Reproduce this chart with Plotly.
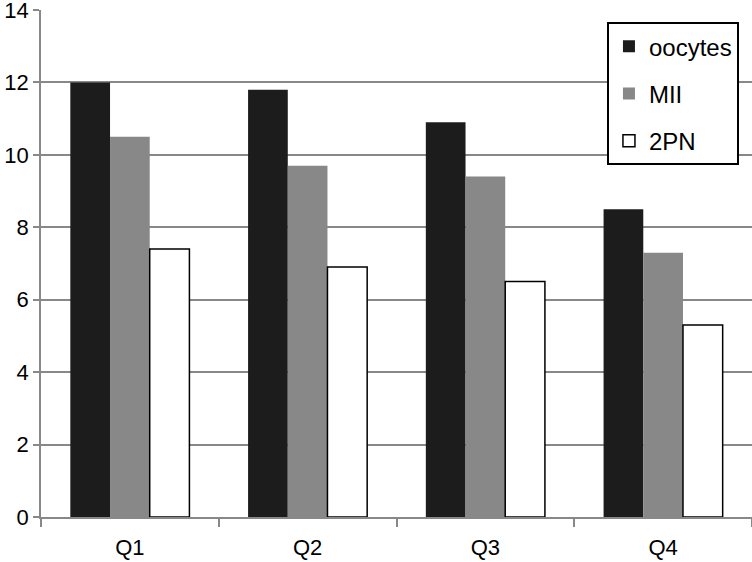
import plotly.graph_objects as go

categories = ["Q1", "Q2", "Q3", "Q4"]
oocytes = [12.0, 11.8, 10.9, 8.5]
mii = [10.5, 9.7, 9.4, 7.3]
pn2 = [7.4, 6.9, 6.5, 5.3]
y_ticks = [0, 2, 4, 6, 8, 10, 12, 14]

fig = go.Figure()
fig.add_trace(go.Bar(x=categories, y=oocytes, name="oocytes", legendgroup="a",
                     marker=dict(color="#1c1c1c", line=dict(width=0))))
fig.add_trace(go.Bar(x=categories, y=mii, name="MII", legendgroup="b",
                     marker=dict(color="#888888", line=dict(width=0))))
fig.add_trace(go.Bar(x=categories, y=pn2, name="2PN", legendgroup="c",
                     marker=dict(color="white", line=dict(color="black", width=1.5))))

tick_font = dict(family="Liberation Sans", size=22, color="black")

fig.update_layout(
    width=752, height=562,
    margin=dict(l=41, r=0, t=10, b=45, autoexpand=False),
    paper_bgcolor="white", plot_bgcolor="white",
    barmode="group", bargap=0.33, bargroupgap=0,
    font=tick_font,
    showlegend=True,
    legend=dict(
        x=0.796, y=0.976, xanchor="left", yanchor="top",
        bgcolor="white", bordercolor="black", borderwidth=2,
        font=dict(family="Liberation Sans", size=24, color="black"),
        tracegroupgap=13, itemwidth=30,
    ),
    xaxis=dict(
        automargin=False,
        showline=True, linecolor="#888888", linewidth=1.5,
        ticks="outside", tickson="boundaries", ticklen=8, tickcolor="#888888",
        tickwidth=1.5, showgrid=False, tickfont=tick_font,
        ticklabelstandoff=10,
    ),
    yaxis=dict(
        automargin=False, ticklabeloverflow="allow",
        range=[0, 14], tickvals=y_ticks, showline=True, linecolor="#888888",
        linewidth=1.5, ticks="outside", ticklen=6, tickcolor="#888888",
        tickwidth=1.5, showgrid=True, gridcolor="#888888", gridwidth=1.5,
        zeroline=False, tickfont=tick_font,
    ),
)

fig.write_html("out.html", config={"displayModeBar": False},
               post_script="document.body.style.margin='0';")
